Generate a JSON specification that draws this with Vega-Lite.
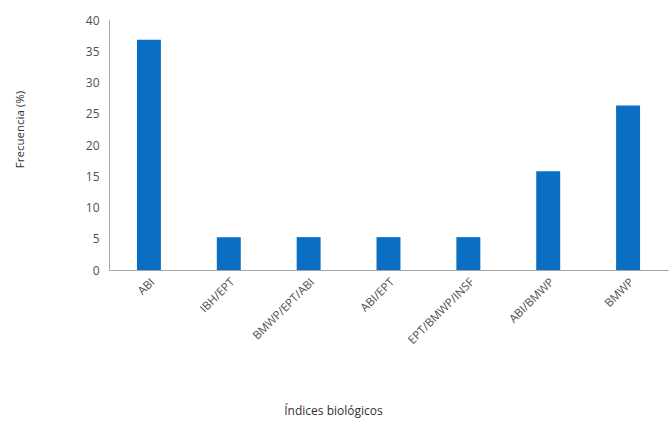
{
  "$schema": "https://vega.github.io/schema/vega-lite/v6.json",
  "autosize": {"type": "none"},
  "width": 559,
  "height": 250,
  "padding": {"left": 109, "top": 20, "right": 2, "bottom": 151},
  "background": "white",
  "data": {"values": [
    {"indice": "ABI", "frecuencia": 36.84},
    {"indice": "IBH/EPT", "frecuencia": 5.26},
    {"indice": "BMWP/EPT/ABI", "frecuencia": 5.26},
    {"indice": "ABI/EPT", "frecuencia": 5.26},
    {"indice": "EPT/BMWP/INSF", "frecuencia": 5.26},
    {"indice": "ABI/BMWP", "frecuencia": 15.79},
    {"indice": "BMWP", "frecuencia": 26.32}
  ]},
  "config": {
    "view": {"stroke": null},
    "font": "Open Sans",
    "axis": {"labelColor": "#505050", "titleColor": "#303030", "domainColor": "#a6a6a6", "ticks": false, "grid": false, "labelFont": "Open Sans", "titleFont": "Open Sans", "titleFontWeight": "normal"}
  },
  "mark": {"type": "bar", "color": "#0A6FC2"},
  "encoding": {
    "x": {
      "field": "indice", "type": "nominal", "sort": null,
      "scale": {"paddingInner": 0.7, "paddingOuter": 0.35},
      "axis": {"title": "Índices biológicos", "labelAngle": -45, "labelFontSize": 11.5, "labelPadding": 6, "titleFontSize": 12, "titleX": 224, "titleY": 140, "titleBaseline": "middle", "titleAnchor": null}
    },
    "y": {
      "field": "frecuencia", "type": "quantitative",
      "scale": {"domain": [0, 40]},
      "axis": {"title": "Frecuencia (%)", "values": [0, 5, 10, 15, 20, 25, 30, 35, 40], "labelFontSize": 12, "labelPadding": 10, "titleFontSize": 11.5, "titleX": -89, "titleY": 109, "titleBaseline": "middle", "titleAnchor": null}
    }
  }
}
